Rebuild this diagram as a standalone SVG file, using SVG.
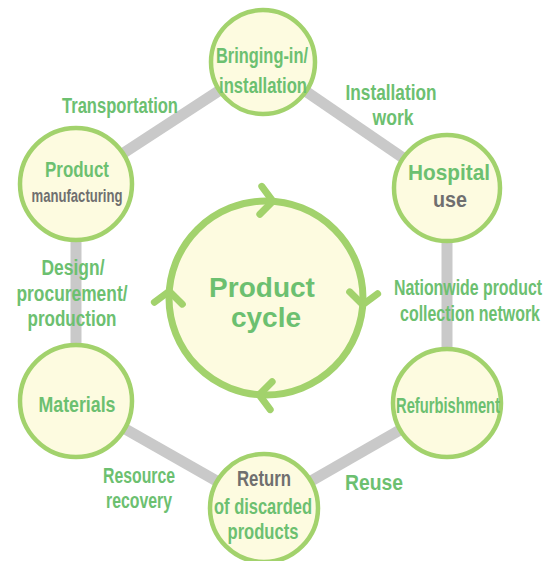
<svg xmlns="http://www.w3.org/2000/svg" width="555" height="561" viewBox="0 0 555 561">
<defs>
<style>
.edge{stroke:#c9c9c9;stroke-width:11;fill:none}
.node{fill:#fdfbe0;stroke:#a2d26c;stroke-width:4.5}
.t{font-family:"Liberation Sans",Arial,sans-serif;font-weight:bold;font-size:22px;text-anchor:middle}
.g{fill:#6cc070}
.k{fill:#6f6f6f}
.chev{fill:none;stroke:#a2d26c;stroke-width:7;stroke-linecap:round;stroke-linejoin:round}
</style>
<path id="chev" class="chev" d="M -12 -14 L 0 0 L -12 14"/>
</defs>
<rect width="555" height="561" fill="#ffffff"/>
<g id="connectors">
<line class="edge" x1="263" y1="62" x2="447" y2="188"/>
<line class="edge" x1="447" y1="188" x2="447" y2="403"/>
<line class="edge" x1="447" y1="403" x2="264" y2="508"/>
<line class="edge" x1="264" y1="508" x2="76" y2="401"/>
<line class="edge" x1="76" y1="401" x2="76" y2="184"/>
<line class="edge" x1="76" y1="184" x2="263" y2="62"/>
</g>
<g id="edge-labels">
<text class="t g" x="120" y="113" textLength="116" lengthAdjust="spacingAndGlyphs">Transportation</text>
<text class="t g" x="391" y="100" textLength="91" lengthAdjust="spacingAndGlyphs">Installation</text>
<text class="t g" x="393" y="125" textLength="41" lengthAdjust="spacingAndGlyphs">work</text>
<text class="t g" x="73" y="275" textLength="63" lengthAdjust="spacingAndGlyphs">Design/</text>
<text class="t g" x="72" y="301" textLength="111" lengthAdjust="spacingAndGlyphs">procurement/</text>
<text class="t g" x="72" y="326" textLength="89" lengthAdjust="spacingAndGlyphs">production</text>
<text class="t g" transform="translate(468,295) scale(0.722,1)" x="0" y="0">Nationwide product</text>
<text class="t g" transform="translate(470,321) scale(0.725,1)" x="0" y="0">collection network</text>
<text class="t g" x="139" y="483" textLength="72" lengthAdjust="spacingAndGlyphs">Resource</text>
<text class="t g" x="139" y="508" textLength="66" lengthAdjust="spacingAndGlyphs">recovery</text>
<text class="t g" x="374" y="490" textLength="58" lengthAdjust="spacingAndGlyphs">Reuse</text>
</g>
<g id="node-bringing-in">
<circle class="node" cx="263" cy="62" r="52"/>
<text class="t g" x="262" y="63" textLength="92" lengthAdjust="spacingAndGlyphs">Bringing-in/</text>
<text class="t g" x="263" y="93" textLength="88" lengthAdjust="spacingAndGlyphs">installation</text>
</g>
<g id="node-hospital">
<circle class="node" cx="447" cy="188" r="53"/>
<text class="t g" x="449" y="180" textLength="82" lengthAdjust="spacingAndGlyphs">Hospital</text>
<text class="t k" x="450" y="207" textLength="34" lengthAdjust="spacingAndGlyphs">use</text>
</g>
<g id="node-refurbishment">
<circle class="node" cx="447" cy="403" r="54"/>
<text class="t g" x="448" y="413" textLength="104" lengthAdjust="spacingAndGlyphs">Refurbishment</text>
</g>
<g id="node-return">
<circle class="node" cx="264" cy="508" r="54"/>
<text class="t k" x="264" y="486" textLength="54" lengthAdjust="spacingAndGlyphs">Return</text>
<text class="t g" x="263" y="514" textLength="98" lengthAdjust="spacingAndGlyphs">of discarded</text>
<text class="t g" x="263" y="539" textLength="71" lengthAdjust="spacingAndGlyphs">products</text>
</g>
<g id="node-materials">
<circle class="node" cx="76" cy="401" r="56"/>
<text class="t g" x="77" y="412" textLength="77" lengthAdjust="spacingAndGlyphs">Materials</text>
</g>
<g id="node-manufacturing">
<circle class="node" cx="76" cy="184" r="56"/>
<text class="t g" x="77" y="177" textLength="64" lengthAdjust="spacingAndGlyphs">Product</text>
<text class="t k" x="77" y="202" style="font-size:19px" textLength="91" lengthAdjust="spacingAndGlyphs">manufacturing</text>
</g>
<g id="node-product-cycle">
<circle cx="266" cy="298" r="97" fill="#fdfbe0" stroke="#a2d26c" stroke-width="7"/>
<use href="#chev" transform="translate(272.8,201.2) rotate(4)"/>
<use href="#chev" transform="translate(362.8,304.8) rotate(94)"/>
<use href="#chev" transform="translate(259.2,394.8) rotate(184)"/>
<use href="#chev" transform="translate(169.2,291.2) rotate(274)"/>
<text class="t g" x="262" y="297" style="font-size:28px">Product</text>
<text class="t g" x="266" y="327" style="font-size:28px">cycle</text>
</g>
</svg>
